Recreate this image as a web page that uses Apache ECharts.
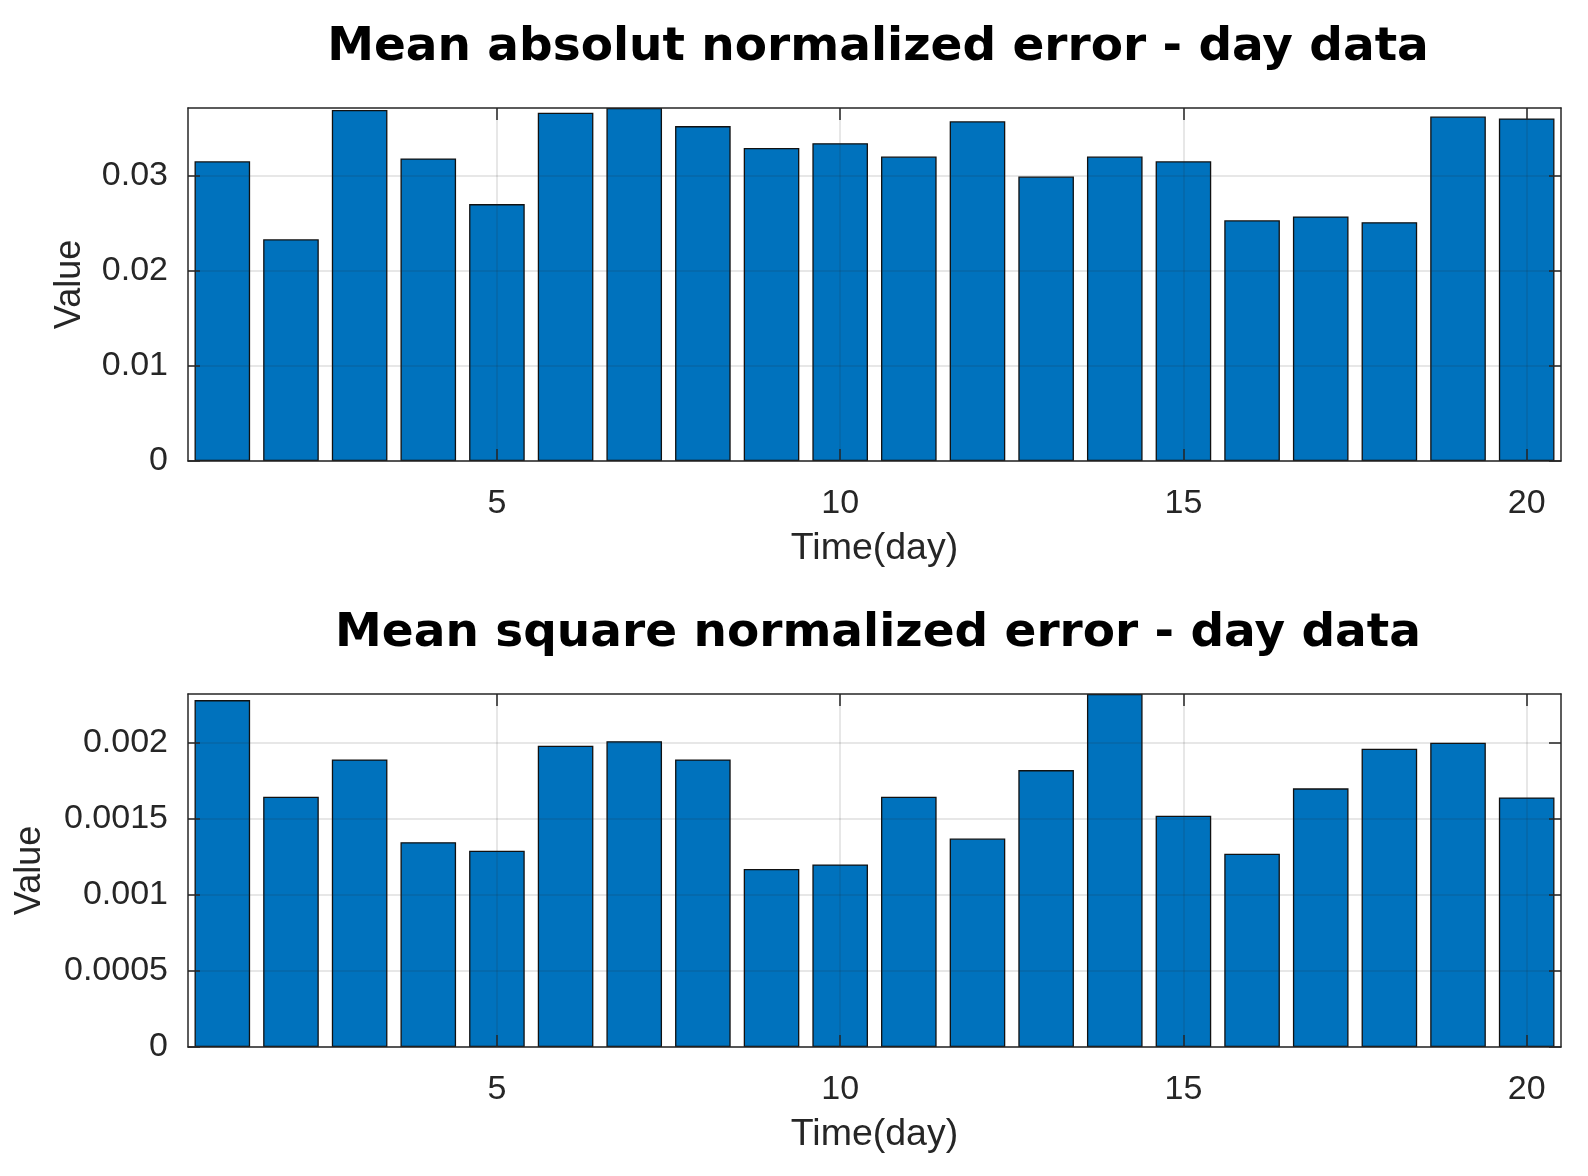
<!DOCTYPE html>
<html><head><meta charset="utf-8">
<script src="https://cdn.jsdelivr.net/npm/echarts@6/dist/echarts.min.js"></script>
<style>html,body{margin:0;padding:0;background:#fff}#c{width:1588px;height:1176px}</style>
</head><body><div id="c"></div>
<script>
const days = [1, 2, 3, 4, 5, 6, 7, 8, 9, 10, 11, 12, 13, 14, 15, 16, 17, 18, 19, 20];
const xTickValues = [5, 10, 15, 20];
const maeValues = [0.0315, 0.0233, 0.0369, 0.0318, 0.0270, 0.0366, 0.0371, 0.0352, 0.0329, 0.0334,
                   0.0320, 0.0357, 0.0299, 0.0320, 0.0315, 0.0253, 0.0257, 0.0251, 0.0362, 0.0360];
const mseValues = [0.00228, 0.001645, 0.00189, 0.001346, 0.00129, 0.00198, 0.00201, 0.00189, 0.00117, 0.00120,
                   0.001645, 0.00137, 0.00182, 0.00232, 0.00152, 0.00127, 0.00170, 0.00196, 0.00200, 0.00164];
const maeTickValues = [0, 0.01, 0.02, 0.03];
const mseTickValues = [0, 0.0005, 0.001, 0.0015, 0.002];
const maeMax = 0.0371;
const mseMax = 0.00232;
const titleTexts = ['Mean absolut normalized error - day data', 'Mean square normalized error - day data'];
const xAxisName = 'Time(day)';
const yAxisName = 'Value';

const AX = '#262626';
const GRIDC = 'rgba(38,38,38,0.15)';
const FONT = 'Liberation Sans';

const chart = echarts.init(document.getElementById('c'), null, {renderer: 'canvas'});

function xAxes(gi) {
  const base = {
    type: 'value', gridIndex: gi, min: 0.5, max: 20.5, z: 3,
    axisLine: {show: true, onZero: false, lineStyle: {color: AX, width: 1.5}},
    axisTick: {show: true, inside: true, length: 12, customValues: xTickValues, lineStyle: {color: AX, width: 1.5}},
    splitLine: {show: true, lineStyle: {color: GRIDC, width: 1.5}}
  };
  return [
    Object.assign({}, base, {
      position: 'bottom',
      name: xAxisName, nameLocation: 'middle', nameGap: 69,
      nameTextStyle: {fontFamily: FONT, fontSize: 37.5, color: AX},
      axisLabel: {show: true, customValues: xTickValues, margin: 26, fontFamily: FONT, fontSize: 34, color: AX}
    }),
    Object.assign({}, base, {
      position: 'top', axisLabel: {show: false}, splitLine: {show: false}
    })
  ];
}
function yAxes(gi, max, ticks, gap) {
  const base = {
    type: 'value', gridIndex: gi, min: 0, max: max, z: 3,
    axisLine: {show: true, onZero: false, lineStyle: {color: AX, width: 1.5}},
    axisTick: {show: true, inside: true, length: 12, customValues: ticks, lineStyle: {color: AX, width: 1.5}},
    splitLine: {show: true, lineStyle: {color: GRIDC, width: 1.5}}
  };
  return [
    Object.assign({}, base, {
      position: 'left',
      name: yAxisName, nameLocation: 'middle', nameGap: gap,
      nameTextStyle: {fontFamily: FONT, fontSize: 36, color: AX},
      axisLabel: {show: true, customValues: ticks, margin: 20, fontFamily: FONT, fontSize: 34, color: AX,
                  formatter: v => String(v)}
    }),
    Object.assign({}, base, {
      position: 'right', axisLabel: {show: false}, splitLine: {show: false}
    })
  ];
}

const option = {
  backgroundColor: '#fff',
  animation: false,
  title: [
    {text: titleTexts[0], left: 873, top: 19, textAlign: 'center',
     textStyle: {fontFamily: 'DejaVu Sans', fontWeight: 'bold', fontSize: 47, color: '#000'}},
    {text: titleTexts[1], left: 873, top: 605, textAlign: 'center',
     textStyle: {fontFamily: 'DejaVu Sans', fontWeight: 'bold', fontSize: 47, color: '#000'}}
  ],
  grid: [
    {left: 188, right: 27, top: 108, height: 353},
    {left: 188, right: 27, top: 694, height: 353}
  ],
  xAxis: xAxes(0).concat(xAxes(1)),
  yAxis: yAxes(0, maeMax, maeTickValues, 100).concat(yAxes(1, mseMax, mseTickValues, 140)),
  series: [
    {type: 'bar', xAxisIndex: 0, yAxisIndex: 0, barWidth: '81%',
     data: days.map((d, i) => [d, maeValues[i]]),
     itemStyle: {color: '#0072BD', borderColor: '#111', borderWidth: 1.3}},
    {type: 'bar', xAxisIndex: 2, yAxisIndex: 2, barWidth: '81%',
     data: days.map((d, i) => [d, mseValues[i]]),
     itemStyle: {color: '#0072BD', borderColor: '#111', borderWidth: 1.3}}
  ]
};
chart.setOption(option);
</script>
</body></html>
